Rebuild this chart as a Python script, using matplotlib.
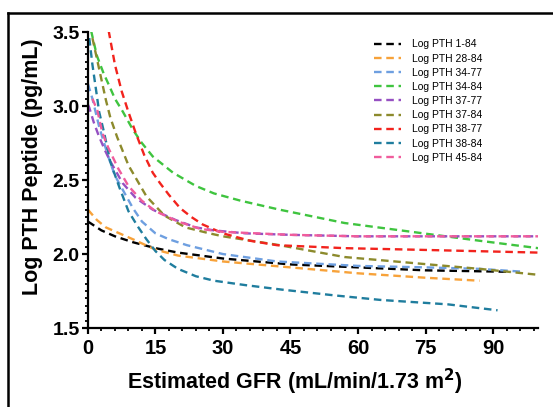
import numpy as np
import matplotlib
matplotlib.use('Agg')
import matplotlib.pyplot as plt
from matplotlib.ticker import MultipleLocator
from matplotlib.lines import Line2D

plt.rcParams['font.family'] = ['Liberation Sans', 'DejaVu Sans']

# series: (GFR, log PTH)
labels = ['Log PTH 1-84', 'Log PTH 28-84', 'Log PTH 34-77', 'Log PTH 34-84',
          'Log PTH 37-77', 'Log PTH 37-84', 'Log PTH 38-77', 'Log PTH 38-84',
          'Log PTH 45-84']
colors = ['#000000', '#f7a23a', '#6e9fe0', '#3fc43f', '#9650c2',
          '#8c8a2c', '#f2231d', '#1f7d9e', '#f05c9c']

x_1_84 = [0, 3, 6, 10, 15, 20, 30, 45, 60, 75, 94]
y_1_84 = [2.22, 2.16, 2.12, 2.08, 2.04, 2.01, 1.97, 1.93, 1.91, 1.89, 1.88]

x_28_84 = [0, 2, 4, 7, 10, 15, 20, 30, 45, 60, 75, 87]
y_28_84 = [2.30, 2.23, 2.18, 2.14, 2.10, 2.03, 1.99, 1.95, 1.91, 1.87, 1.84, 1.82]

x_34_77 = [0, 1, 2.5, 4.5, 6, 8, 10, 12, 15, 18, 22, 26, 30, 42, 60, 75, 87, 97]
y_34_77 = [3.15, 3.05, 2.86, 2.66, 2.53, 2.42, 2.31, 2.22, 2.14, 2.10, 2.06, 2.03,
           2.00, 1.95, 1.92, 1.91, 1.90, 1.88]

x_34_84 = [0.7, 2, 3.5, 4.7, 6, 7.8, 10, 12, 14.4, 18.9, 24, 28, 34, 42.6, 57, 72, 87, 100]
y_34_84 = [3.51, 3.34, 3.22, 3.14, 3.05, 2.96, 2.84, 2.75, 2.66, 2.55, 2.46, 2.41,
           2.36, 2.30, 2.21, 2.15, 2.09, 2.04]

x_37_77 = [0, 0.3, 1.3, 2.4, 3.8, 5.1, 7.7, 10.6, 14.4, 19.5, 24, 28, 35, 45, 60, 100]
y_37_77 = [3.01, 2.99, 2.89, 2.80, 2.70, 2.62, 2.48, 2.38, 2.30, 2.23, 2.18, 2.16,
           2.14, 2.13, 2.12, 2.12]

x_37_84 = [1, 2, 3, 4, 5, 6.5, 9, 13, 17, 21.7, 27, 30, 42.6, 57, 72, 87, 100]
y_37_84 = [3.46, 3.32, 3.18, 3.04, 2.92, 2.79, 2.60, 2.39, 2.26, 2.18, 2.14, 2.12,
           2.06, 1.98, 1.94, 1.90, 1.86]

x_38_77 = [4.6, 6, 7.5, 9, 10.6, 12.5, 14.4, 16, 18, 20.5, 23, 25.5, 30, 36, 42, 57, 72, 100]
y_38_77 = [3.51, 3.28, 3.10, 2.96, 2.82, 2.67, 2.55, 2.48, 2.40, 2.31, 2.25, 2.20,
           2.14, 2.09, 2.06, 2.04, 2.03, 2.01]

x_38_84 = [0.3, 1, 1.8, 2.5, 3.6, 5, 7, 9, 11, 13, 15, 17, 20, 24, 28, 35, 43, 55, 65, 80, 91]
y_38_84 = [3.46, 3.28, 3.11, 2.96, 2.82, 2.62, 2.45, 2.29, 2.19, 2.10, 2.02, 1.96,
           1.90, 1.85, 1.82, 1.79, 1.76, 1.72, 1.69, 1.66, 1.62]

x_45_84 = [1, 2.1, 3.2, 4.5, 6.7, 9, 12, 15, 20, 25, 30, 45, 60, 100]
y_45_84 = [3.05, 2.97, 2.82, 2.72, 2.58, 2.46, 2.36, 2.29, 2.22, 2.17, 2.15, 2.13,
           2.12, 2.12]

xs = [x_1_84, x_28_84, x_34_77, x_34_84, x_37_77, x_37_84, x_38_77, x_38_84, x_45_84]
ys = [y_1_84, y_28_84, y_34_77, y_34_84, y_37_77, y_37_84, y_38_77, y_38_84, y_45_84]

fig = plt.figure(figsize=(5.53, 4.07), dpi=100)
ax = fig.add_axes([0.159, 0.194, 0.814, 0.727])

for x, y, c, lab in zip(xs, ys, colors, labels):
    ax.plot(x, y, color=c, lw=1.7, dashes=(3.2, 2.0), label=lab)

ax.set_xlim(0, 100)
ax.set_ylim(1.5, 3.5)
ax.xaxis.set_major_locator(MultipleLocator(15))
ax.xaxis.set_minor_locator(MultipleLocator(3))
ax.yaxis.set_major_locator(MultipleLocator(0.5))
ax.yaxis.set_minor_locator(MultipleLocator(0.05))
ax.set_xticks(np.arange(0, 91, 15))

for s in ['top', 'right']:
    ax.spines[s].set_visible(False)
for s in ['left', 'bottom']:
    ax.spines[s].set_linewidth(1.6)

ax.tick_params(which='major', direction='out', length=4, width=1.6, pad=2)
ax.tick_params(which='minor', direction='out', length=2.5, width=1.3)
ax.tick_params(axis='x', labelsize=14.5, pad=4)
ax.tick_params(axis='y', labelsize=14)
for t in ax.get_xticklabels() + ax.get_yticklabels():
    t.set_fontweight('bold')
ax.yaxis.set_major_formatter(plt.FuncFormatter(lambda v, p: f'{v:.1f}'))

ax.set_xlabel('Estimated GFR (mL/min/1.73 m$^\\mathbf{2}$)', fontsize=15.5, fontweight='bold')
ax.set_ylabel('Log PTH Peptide (pg/mL)', fontsize=15.5, fontweight='bold')
ax.xaxis.set_label_coords(0.46, -0.13)
ax.yaxis.set_label_coords(-0.10, 0.545)

leg = ax.legend(loc='upper left', bbox_to_anchor=(0.62, 1.0), frameon=False,
                fontsize=7.5, handlelength=2.6, labelspacing=0.4,
                handletextpad=1.0, borderaxespad=0.3)

# black frame of the cropped figure (left and top visible)
fig.add_artist(Line2D([8 / 553, 8 / 553], [0, 1 - 13 / 407], color='black', lw=1.8))
fig.add_artist(Line2D([8 / 553, 1], [1 - 13 / 407, 1 - 13 / 407], color='black', lw=1.8))

fig.savefig('out.png', dpi=100)
